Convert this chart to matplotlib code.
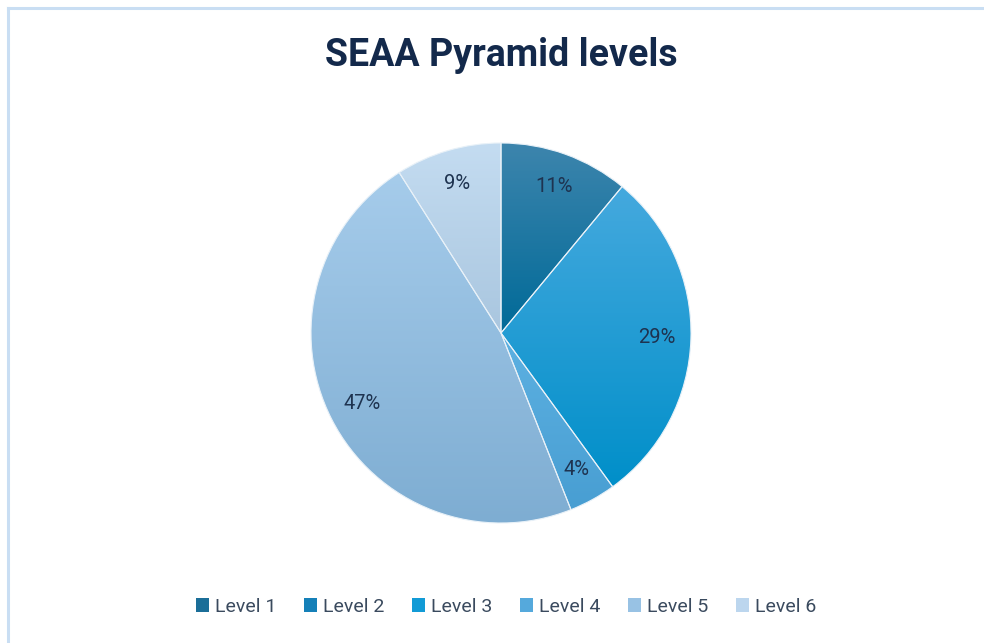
import matplotlib

matplotlib.use("Agg")
import matplotlib.pyplot as plt
import numpy as np
from matplotlib.colors import LinearSegmentedColormap
from matplotlib.lines import Line2D
from matplotlib.patches import Patch

# data
levels = ["Level 1", "Level 2", "Level 3", "Level 4", "Level 5", "Level 6"]
shares = [11, 0, 29, 4, 47, 9]

# gradient fills (top, bottom) per level, plus legend swatch colour
TOP = ["#3d85ad", "#2a86bd", "#45a9de", "#5db1e2", "#a6cceb", "#c4dcf1"]
BOT = ["#006a98", "#0a74ab", "#008fc9", "#489ed2", "#7eadd2", "#a9c6df"]
SWATCH = ["#1b6e98", "#1580b8", "#129bd6", "#55a9dc", "#98c2e4", "#bcd6ee"]
INK = "#1e3350"
TITLE = "#13294b"
BORDER = "#c9def3"

plt.rcParams["font.family"] = ["Roboto", "DejaVu Sans"]

W, H = 984, 643
fig = plt.figure(figsize=(W / 100, H / 100), dpi=100)
fig.patch.set_facecolor("white")

# pie centre (501, 333) px, radius 190 px
cx, cy, r = 501, 333, 190
ax = fig.add_axes([(cx - r) / W, (H - cy - r) / H, 2 * r / W, 2 * r / H])

wedges, _, autotexts = ax.pie(
    shares, startangle=90, counterclock=False, radius=1,
    autopct=lambda p: f"{p:.0f}%" if p > 0.5 else "",
    pctdistance=0.82,
    wedgeprops=dict(linewidth=0.8, edgecolor="#e8f1f8"),
    textprops=dict(color=INK, fontsize=14.5),
)

# vertical gradient inside each wedge
for w, top, bot, v in zip(wedges, TOP, BOT, shares):
    if v == 0:
        w.set_visible(False)
        continue
    w.set_facecolor("none")
    bb = w.get_path().get_extents()
    cmap = LinearSegmentedColormap.from_list("g", [bot, top])
    grad = np.linspace(0, 1, 256).reshape(-1, 1)
    im = ax.imshow(grad, cmap=cmap, origin="lower", aspect="auto",
                   extent=[bb.x0, bb.x1, bb.y0, bb.y1], zorder=0.5)
    im.set_clip_path(w)
ax.set_xlim(-1, 1)
ax.set_ylim(-1, 1)
ax.set_axis_off()

fig.text(cx / W, 1 - 55 / H, "SEAA Pyramid levels", ha="center", va="center",
         fontsize=27, fontweight="bold", color=TITLE)

handles = [Patch(facecolor=c, edgecolor="none") for c in SWATCH]
fig.legend(handles, levels, loc="center", bbox_to_anchor=(506 / W, 1 - 607 / H),
           ncol=6, frameon=False, fontsize=14, labelcolor="#3a4a5e",
           handlelength=0.7, handleheight=0.7, handletextpad=0.3,
           columnspacing=1.4)

# chart frame: only top and left edges visible
fig.add_artist(Line2D([7.5 / W, 7.5 / W], [0, 1 - 7.5 / H], transform=fig.transFigure,
                      color=BORDER, linewidth=2.2))
fig.add_artist(Line2D([7.5 / W, 1], [1 - 7.5 / H, 1 - 7.5 / H], transform=fig.transFigure,
                      color=BORDER, linewidth=2.2))

fig.savefig("out.png", dpi=100)
